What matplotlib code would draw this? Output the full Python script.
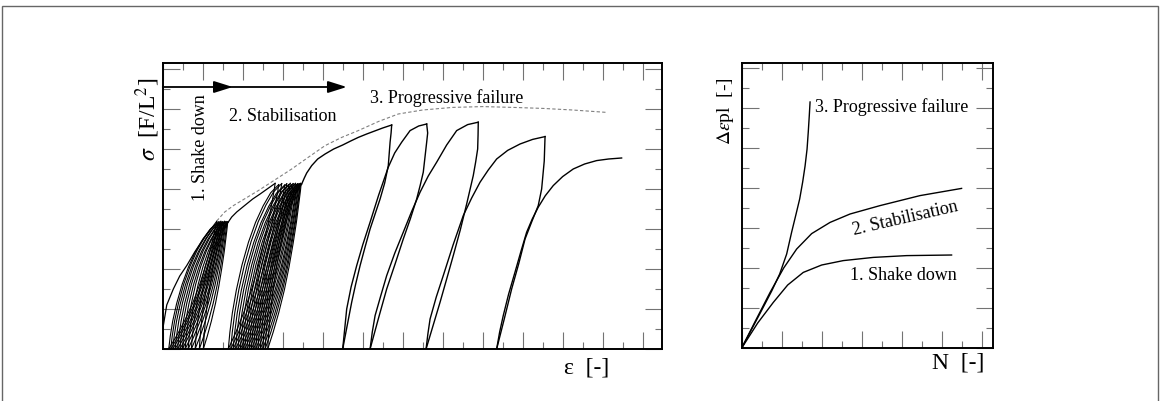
import numpy as np
import matplotlib
matplotlib.use('Agg')
import matplotlib.pyplot as plt
from matplotlib.patches import Rectangle

plt.rcParams['font.family'] = ['Liberation Serif', 'DejaVu Serif']
plt.rcParams['mathtext.fontset'] = 'stix'

# ---------------- left panel: sigma - epsilon (units = one tick step) ----------------
virgin_x = [0, 0.03, 0.2, 0.53, 0.85, 1.2, 1.6, 2.03, 2.4, 2.7]
virgin_y = [0, 1.17, 2.2, 3.0, 3.65, 4.17, 4.85, 5.5, 5.98, 6.38]

# 1. shake down cluster
c1_base = [0.30, 0.40, 0.50, 0.62, 0.74, 0.86, 0.98, 1.12, 1.27, 1.43, 1.62, 1.83, 2.03]
c1_peak = [2.70, 2.76, 2.81, 2.86, 2.91, 2.96, 3.00, 3.05, 3.09, 3.13, 3.17, 3.21, 3.25, 3.28]
c1_peak_y = [6.38, 6.30, 6.36, 6.30, 6.38, 6.33, 6.36, 6.30, 6.38, 6.34, 6.37, 6.32, 6.36, 6.35]

bridge_x = [3.28, 3.45, 3.7, 4.03, 4.5, 4.87, 5.25, 5.62]
bridge_y = [6.35, 6.6, 6.85, 7.12, 7.5, 7.75, 8.02, 8.28]

# 2. stabilisation cluster
c2_base = [3.28, 3.40, 3.52, 3.64, 3.76, 3.88, 3.99, 4.10, 4.21, 4.32, 4.43, 4.54,
           4.65, 4.76, 4.88, 5.00, 5.12, 5.25]
c2_peak = [5.62, 5.80, 5.95, 6.10, 6.20, 6.30, 6.38, 6.45, 6.52, 6.58, 6.64, 6.70,
           6.74, 6.78, 6.82, 6.86, 6.89, 6.92, 6.95]
c2_peak_y = [8.28, 8.22, 8.27, 8.20, 8.26, 8.22, 8.28, 8.21, 8.27, 8.23, 8.28, 8.22,
             8.26, 8.21, 8.27, 8.23, 8.28, 8.24, 8.25]

# shape of one small loop (fraction of base->peak span)
up_u = [0, 0.03, 0.08, 0.16, 0.27, 0.40, 0.54, 0.69, 0.84, 1]
up_v = [0, 0.10, 0.22, 0.36, 0.51, 0.65, 0.77, 0.87, 0.95, 1]
dn_u = [0, 0.16, 0.33, 0.50, 0.64, 0.76, 0.86, 0.93, 0.98, 1]
dn_v = [0, 0.10, 0.22, 0.36, 0.50, 0.64, 0.77, 0.88, 0.96, 1]

load_x = [6.95, 7.08, 7.2, 7.45, 7.75, 8.12, 8.55, 9.0, 9.4, 9.78, 10.2, 10.6, 11.0, 11.45]
load_y = [8.25, 8.55, 8.8, 9.17, 9.5, 9.75, 10.0, 10.2, 10.4, 10.58, 10.75, 10.9, 11.05, 11.2]

# 3. progressive failure: unload / reload branches
unload_x = [[11.45, 11.42, 11.37, 11.28, 11.1, 10.87, 10.62, 10.37, 10.12, 9.87, 9.65, 9.45, 9.22, 9.0],
            [13.2, 13.25, 13.2, 13.03, 12.88, 12.7, 12.38, 12.03, 11.62, 11.2, 10.78, 10.37],
            [15.78, 15.77, 15.75, 15.65, 15.53, 15.2, 14.88, 14.53, 14.2, 13.87, 13.52, 13.17],
            [19.12, 19.08, 18.95, 18.78, 18.45, 18.12, 17.8, 17.45, 17.08, 16.7]]
unload_y = [[11.2, 10.8, 10.34, 9.17, 8.3, 7.5, 6.75, 6.0, 5.1, 4.17, 3.25, 2.34, 1.15, 0.0],
            [11.25, 10.8, 10.34, 8.84, 8.2, 7.5, 6.5, 5.5, 4.25, 3.0, 1.5, 0.0],
            [11.34, 10.7, 10.0, 9.35, 8.67, 7.25, 5.95, 4.67, 3.5, 2.34, 1.17, 0.0],
            [10.62, 9.4, 8.0, 7.17, 6.35, 5.5, 4.25, 3.0, 1.5, 0.0]]
reload_x = [[9.0, 9.1, 9.2, 9.42, 9.7, 10.0, 10.37, 10.8, 11.28, 11.6, 11.95, 12.37, 12.8, 13.2],
            [10.37, 10.48, 10.62, 10.9, 11.2, 11.6, 12.03, 12.45, 12.87, 13.28, 13.7, 14.2, 14.7, 15.25, 15.78],
            [13.17, 13.26, 13.37, 13.68, 14.03, 14.52, 15.03, 15.45, 15.87, 16.28, 16.7, 17.25, 17.87, 18.5, 19.12],
            [16.7, 16.85, 17.03, 17.3, 17.62, 17.92, 18.2, 18.48, 18.78, 19.13, 19.53, 20.0, 20.53, 21.1, 21.7, 22.3, 22.95]]
reload_y = [[0.0, 1.0, 2.0, 3.1, 4.17, 5.2, 6.34, 7.7, 9.09, 9.8, 10.34, 10.92, 11.15, 11.25],
            [0.0, 0.85, 1.67, 2.65, 3.67, 4.78, 5.84, 6.88, 7.84, 8.65, 9.34, 10.2, 10.92, 11.22, 11.34],
            [0.0, 0.75, 1.5, 2.6, 3.67, 5.2, 6.67, 7.55, 8.34, 8.95, 9.5, 9.93, 10.25, 10.48, 10.62],
            [0.0, 0.85, 1.67, 2.75, 3.85, 4.9, 5.84, 6.5, 7.09, 7.66, 8.17, 8.62, 9.0, 9.25, 9.42, 9.5, 9.55]]

env_x = [2.7, 3.1, 3.55, 4.0, 4.78, 5.6, 6.45, 7.3, 8.12, 8.95, 9.78, 10.8, 11.78, 13.0,
         14.5, 16.0, 17.5, 19.0, 20.5, 22.2]
env_y = [6.4, 6.85, 7.18, 7.45, 7.92, 8.45, 9.0, 9.6, 10.17, 10.58, 10.92, 11.38, 11.75,
         11.95, 12.08, 12.12, 12.08, 12.03, 11.95, 11.83]

# ---------------- right panel: delta eps_pl - N ----------------
shake_x = [0, 0.8, 1.58, 2.3, 3.08, 4.0, 5.08, 6.58, 8.25, 10.5]
shake_y = [0, 1.25, 2.28, 3.15, 3.78, 4.15, 4.37, 4.53, 4.62, 4.65]
stab_x = [0, 0.7, 1.42, 2.1, 2.75, 3.5, 4.42, 5.42, 6.92, 8.92, 11.0]
stab_y = [0, 1.38, 2.78, 4.0, 4.95, 5.72, 6.28, 6.7, 7.12, 7.62, 7.98]
prog_x = [0, 0.9, 1.5, 1.9, 2.25, 2.5, 2.72, 2.9, 3.05, 3.17, 3.27, 3.33, 3.38, 3.42]
prog_y = [0, 1.7, 2.85, 3.7, 4.7, 5.8, 6.7, 7.45, 8.3, 9.1, 9.95, 10.8, 11.6, 12.3]


def draw_cluster(ax, bases, peaks, peak_ys):
    for i in range(len(bases)):
        b = bases[i]
        p, py = peaks[i], peak_ys[i]
        ax.plot([b + (p - b) * u for u in dn_u], [py * v for v in dn_v], 'k-', lw=0.8)
        p2, py2 = peaks[i + 1], peak_ys[i + 1]
        ax.plot([b + (p2 - b) * u for u in up_u], [py2 * v for v in up_v], 'k-', lw=0.8)


def style_axes(ax, xmax, ymax):
    ax.set_xlim(0, xmax)
    ax.set_ylim(0, ymax)
    ax.set_xticks(np.arange(0, xmax, 2))
    ax.set_xticks(np.arange(0, xmax, 1), minor=True)
    ax.set_yticks(np.arange(0, ymax, 2))
    ax.set_yticks(np.arange(0, ymax, 1), minor=True)
    ax.tick_params(which='both', direction='in', top=True, right=True,
                   labelbottom=False, labelleft=False, color='0.45', width=0.8)
    ax.tick_params(which='major', length=12)
    ax.tick_params(which='minor', length=5)
    for s in ax.spines.values():
        s.set_linewidth(1.4)


fig = plt.figure(figsize=(11.6, 4.02), dpi=100)
fig.patches.append(Rectangle((2 / 1160, -0.1), 1156 / 1160, 1.1 - 7 / 402,
                             transform=fig.transFigure, fill=False, ec='0.4', lw=1))

ax1 = fig.add_axes([0.1403, 0.1294, 0.4304, 0.7114])
style_axes(ax1, 24.97, 14.3)

ax1.plot(virgin_x, virgin_y, 'k-', lw=0.9)
draw_cluster(ax1, c1_base, c1_peak, c1_peak_y)
ax1.plot(bridge_x, bridge_y, 'k-', lw=0.9)
draw_cluster(ax1, c2_base, c2_peak, c2_peak_y)
ax1.plot(load_x, load_y, 'k-', lw=1.0)
for i in range(len(unload_x)):
    ax1.plot(unload_x[i], unload_y[i], 'k-', lw=1.0)
    ax1.plot(reload_x[i], reload_y[i], 'k-', lw=1.0)
ax1.plot(env_x, env_y, color='0.5', lw=0.8, ls=(0, (3, 2)))

arr = dict(arrowstyle='-|>,head_length=0.95,head_width=0.3', color='k', lw=1.3,
           mutation_scale=12, shrinkA=0, shrinkB=0)
ax1.annotate('', xy=(3.5, 13.1), xytext=(0, 13.1), arrowprops=arr)
ax1.annotate('', xy=(9.2, 13.1), xytext=(3.3, 13.1), arrowprops=arr)

ax1.text(1.87, 10.1, '1. Shake down', rotation=90, ha='center', va='center', fontsize=13)
ax1.text(6.0, 11.67, '2. Stabilisation', ha='center', va='center', fontsize=13)
ax1.text(14.2, 12.6, '3. Progressive failure', ha='center', va='center', fontsize=13)

fig.text(587 / 1160, 1 - 368 / 402, 'ε  [-]', ha='center', va='center', fontsize=17)
fig.text(148 / 1160, 1 - 119 / 402, r'$\sigma$  [F/L$^2$]', rotation=90,
         ha='center', va='center', fontsize=17)

ax2 = fig.add_axes([0.6394, 0.1318, 0.2166, 0.709])
style_axes(ax2, 12.57, 14.25)
ax2.plot(shake_x, shake_y, 'k-', lw=1.0)
ax2.plot(stab_x, stab_y, 'k-', lw=1.0)
ax2.plot(prog_x, prog_y, 'k-', lw=1.0)
ax2.text(3.67, 12.1, '3. Progressive failure', ha='left', va='center', fontsize=13)
ax2.text(8.17, 6.53, '2. Stabilisation', ha='center', va='center', rotation=13, fontsize=13)
ax2.text(8.1, 3.7, '1. Shake down', ha='center', va='center', fontsize=13)

fig.text(958 / 1160, 1 - 363 / 402, 'N  [-]', ha='center', va='center', fontsize=17)
fig.text(726 / 1160, 1 - 111 / 402, r'$\Delta\varepsilon$pl  [-]', rotation=90,
         ha='center', va='center', fontsize=14)

fig.savefig('out.png', dpi=100)
